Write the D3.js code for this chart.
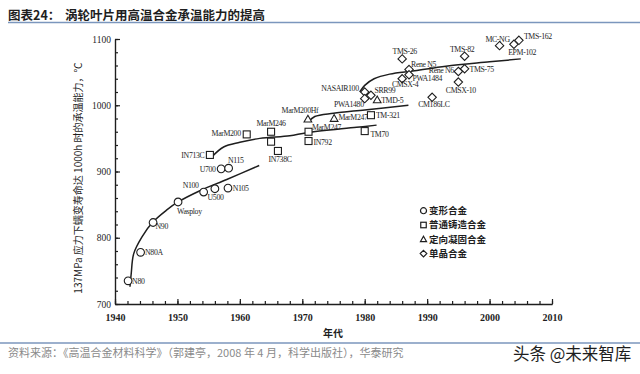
<!DOCTYPE html>
<html>
<head>
<meta charset="utf-8">
<script src="https://cdn.jsdelivr.net/npm/d3@7"></script>
<style>
  body { margin: 0; background: #fff; }
  svg { display: block; }
</style>
</head>
<body>
<div id="chart"></div>
<script>
// [name, year, temperature]
const wrought = [
  ["N80", 1942.1, 735], ["N80A", 1944.1, 778], ["N90", 1946.1, 823],
  ["Wasploy", 1950.1, 854], ["N100", 1954.2, 869], ["U500", 1956, 874],
  ["N105", 1958.1, 875], ["U700", 1957, 904], ["N115", 1958.2, 905]
];
const cast = [
  ["IN713C", 1955.2, 925], ["MarM200", 1961.1, 956], ["MarM246", 1965, 960],
  ["", 1965, 945], ["IN738C", 1966.1, 931], ["MarM247", 1971, 960],
  ["IN792", 1971, 946], ["TM-321", 1981, 985], ["TM70", 1980, 961]
];
const directional = [
  ["MarM200Hf", 1970.9, 979], ["MarM247", 1975.1, 980], ["TMD-5", 1982, 1008]
];
const singleCrystal = [
  ["NASAIR100", 1980, 1020], ["SRR99", 1981, 1015], ["PWA1480", 1980, 1010],
  ["TMS-26", 1986, 1070], ["Rene N5", 1987.1, 1054], ["PWA1484", 1987.1, 1046],
  ["CMSX-4", 1986, 1040], ["CM186LC", 1990.8, 1012], ["Rene N6", 1995, 1051],
  ["TMS-75", 1996, 1055], ["TMS-82", 1996, 1074], ["CMSX-10", 1995, 1035],
  ["MC-NG", 2001.6, 1090], ["EPM-102", 2003.9, 1092], ["TMS-162", 2004.7, 1098]
];

// trend curves: [year, temperature]
const wroughtCurve = [[1942.4, 726], [1942.6, 746], [1943, 776], [1944.3, 801], [1946.1, 824],
  [1948.3, 842], [1950.1, 854], [1953.6, 871], [1957.9, 888], [1963.1, 909]];
const castCurve = [[1955.5, 922], [1957.4, 937], [1960, 944], [1963.2, 950], [1968, 954],
  [1970.7, 958.6], [1978.7, 966.7], [1981.9, 970]];
const dsCurve = [[1971, 975], [1972, 983], [1975, 988], [1980, 993], [1987, 1000]];
const scCurve = [[1979.2, 1020], [1980, 1030], [1981.5, 1040], [1984, 1047], [1988, 1052],
  [1993, 1059], [2000, 1065.5], [2005, 1070]];

const xTicks = [1940, 1950, 1960, 1970, 1980, 1990, 2000, 2010];
const yTicks = [700, 800, 900, 1000, 1100];
const legendLabels = ["变形合金", "普通铸造合金", "定向凝固合金", "单晶合金"];

const titleText = "图表24：";
const titleMain = "涡轮叶片用高温合金承温能力的提高";
const yLabel = "137MPa 应力下蠕变寿命达 1000h 时的承温能力，℃";
const xLabel = "年代";
const sourceText = "资料来源：《高温合金材料科学》（郭建亭，2008 年 4 月，科学出版社），华泰研究";
const watermark = "头条 @未来智库";

// label placement: [anchor, dx, dy]
const labelPos = {
  "N80": ["start", 4, 0], "N80A": ["start", 4.5, 0], "N90": ["start", 2.5, 4],
  "Wasploy": ["start", -1, 9.5], "N100": ["end", -5, -6.5], "U500": ["start", -7.3, 8.7],
  "N105": ["start", 4.7, 0], "U700": ["end", -5.5, 0], "N115": ["start", -0.6, -8],
  "IN713C": ["end", -5.5, 0], "MarM200": ["end", -6, -1.5], "MarM246": ["middle", 0, -8.4],
  "IN738C": ["start", -9.4, 8.3], "MarM247c": ["start", 3.4, -4], "IN792": ["start", 5, 1.6],
  "TM-321": ["start", 5, 0], "TM70": ["start", 5.7, 3.6],
  "MarM200Hf": ["middle", -8, -9], "MarM247d": ["start", 4.3, -1], "TMD-5": ["start", 4, 0.7],
  "NASAIR100": ["end", -6, -3.4], "PWA1480": ["end", -1, 5.7], "SRR99": ["start", 3.5, -5.5],
  "TMS-26": ["middle", 2.5, -7.3], "Rene N5": ["start", 2, -5.5], "PWA1484": ["start", 3.4, 3.3],
  "CMSX-4": ["middle", 3, 5.8], "CM186LC": ["middle", 1.7, 7], "Rene N6": ["end", -4.5, -1.5],
  "TMS-75": ["start", 5, 0], "TMS-82": ["middle", -2.5, -7], "CMSX-10": ["middle", 2.5, 8.5],
  "MC-NG": ["middle", -2, -6], "EPM-102": ["start", -5.7, 7.7], "TMS-162": ["start", 5, -4]
};

const W = 640, H = 374;
const ink = "#1e1e1e";
const svg = d3.select("#chart").append("svg").attr("width", W).attr("height", H);

const x = d3.scaleLinear().domain([1940, 2010]).range([115, 552]);
const y = d3.scaleLinear().domain([700, 1100]).range([304, 39]);

// title and rules
svg.append("text").attr("x", 8).attr("y", 20)
  .attr("font-family", "Noto Sans CJK SC").attr("font-weight", 700).attr("font-size", 12.5)
  .attr("fill", ink).text(titleText);
svg.append("text").attr("x", 65).attr("y", 20)
  .attr("font-family", "Noto Sans CJK SC").attr("font-weight", 700).attr("font-size", 12.5)
  .attr("fill", ink).text(titleMain);
svg.append("line").attr("x1", 8).attr("x2", W).attr("y1", 22.5).attr("y2", 22.5)
  .attr("stroke", "#7b96bd").attr("stroke-width", 1.5);
svg.append("line").attr("x1", 0).attr("x2", W).attr("y1", 343).attr("y2", 343)
  .attr("stroke", "#7b96bd").attr("stroke-width", 1.5);

svg.append("text").attr("x", 8).attr("y", 357)
  .attr("font-family", "Noto Sans CJK SC").attr("font-size", 11).attr("fill", "#8a8a8a")
  .text(sourceText);
svg.append("text").attr("x", 513).attr("y", 360)
  .attr("font-family", "Noto Sans CJK SC").attr("font-size", 16.5).attr("fill", ink)
  .text(watermark);

// axes
const yAxis = svg.append("g").attr("transform", `translate(${x(1940)},0)`)
  .call(d3.axisLeft(y).tickValues(yTicks).tickFormat(d3.format("d"))
    .tickSize(-5).tickSizeOuter(0).tickPadding(4));
const yMinor = svg.append("g").attr("transform", `translate(${x(1940)},0)`)
  .call(d3.axisLeft(y).tickValues(d3.range(700, 1101, 20)).tickSize(-3).tickSizeOuter(0).tickFormat(""));
const xAxis = svg.append("g").attr("transform", `translate(0,${y(700)})`)
  .call(d3.axisBottom(x).tickValues(xTicks).tickFormat(d3.format("d"))
    .tickSize(-5).tickSizeOuter(0).tickPadding(10));
const xMinor = svg.append("g").attr("transform", `translate(0,${y(700)})`)
  .call(d3.axisBottom(x).tickValues(d3.range(1940, 2011, 2)).tickSize(-3).tickSizeOuter(0).tickFormat(""));

[yAxis, yMinor, xAxis, xMinor].forEach(g => {
  g.selectAll("path, line").attr("stroke", ink).attr("stroke-width", 1.2);
  g.selectAll("text").attr("font-family", "Liberation Serif").attr("fill", ink);
});
yAxis.selectAll("text").attr("font-size", 9.5);
xAxis.selectAll("text").attr("font-size", 10).attr("font-weight", 700);
xAxis.select(".domain").attr("stroke-width", 1.6);

svg.append("text").attr("x", 333).attr("y", 337).attr("text-anchor", "middle")
  .attr("font-family", "Noto Sans CJK SC").attr("font-weight", 700).attr("font-size", 10)
  .attr("fill", ink).text(xLabel);
svg.append("text").attr("transform", "translate(82,178) rotate(-90)").attr("text-anchor", "middle")
  .attr("font-family", "Noto Sans CJK SC").attr("font-size", 10).attr("fill", ink)
  .text(yLabel);

// trend curves
const line = d3.line().x(d => x(d[0])).y(d => y(d[1])).curve(d3.curveCatmullRom);
[wroughtCurve, castCurve, dsCurve, scCurve].forEach(c => {
  svg.append("path").datum(c).attr("d", line)
    .attr("fill", "none").attr("stroke", ink).attr("stroke-width", 1.5);
});

// markers
function marker(g, shape, s) {
  if (shape === "circle") {
    g.append("circle").attr("r", s * 0.55);
  } else if (shape === "square") {
    g.append("rect").attr("x", -s / 2).attr("y", -s / 2).attr("width", s).attr("height", s);
  } else if (shape === "triangle") {
    const h = s * 0.9;
    g.append("path").attr("d", `M0,${-h * 0.62}L${s * 0.55},${h * 0.45}L${-s * 0.55},${h * 0.45}Z`);
  } else {
    const r = s * 0.6;
    g.append("path").attr("d", `M0,${-r}L${r},0L0,${r}L${-r},0Z`);
  }
}

const groups = [
  [wrought, "circle", ""], [cast, "square", "c"],
  [directional, "triangle", "d"], [singleCrystal, "diamond", ""]
];
groups.forEach(([data, shape, suffix]) => {
  data.forEach(([name, yr, t]) => {
    const g = svg.append("g").attr("transform", `translate(${x(yr)},${y(t)})`)
      .attr("fill", "#fff").attr("stroke", ink).attr("stroke-width", 1.1);
    marker(g, shape, 7);
    if (!name) return;
    const key = labelPos[name + suffix] ? name + suffix : name;
    const p = labelPos[key] || ["start", 5, 0];
    svg.append("text").attr("x", x(yr) + p[1]).attr("y", y(t) + p[2])
      .attr("dy", "0.35em").attr("text-anchor", p[0])
      .attr("font-family", "Liberation Serif").attr("font-size", 7.8)
      .attr("letter-spacing", -0.35).attr("fill", ink).text(name);
  });
});

// legend
const legendShapes = ["circle", "square", "triangle", "diamond"];
const legend = svg.append("g").attr("transform", "translate(423.5,210.7)");
legendLabels.forEach((label, i) => {
  const item = legend.append("g").attr("transform", `translate(0,${i * 14.3})`);
  const m = item.append("g").attr("fill", "#fff").attr("stroke", ink).attr("stroke-width", 1.2);
  marker(m, legendShapes[i], 5.5);
  item.append("text").attr("x", 5.5).attr("dy", "0.35em")
    .attr("font-family", "Noto Sans CJK SC").attr("font-weight", 700).attr("font-size", 9.5)
    .attr("fill", ink).text(label);
});
</script>
</body>
</html>
